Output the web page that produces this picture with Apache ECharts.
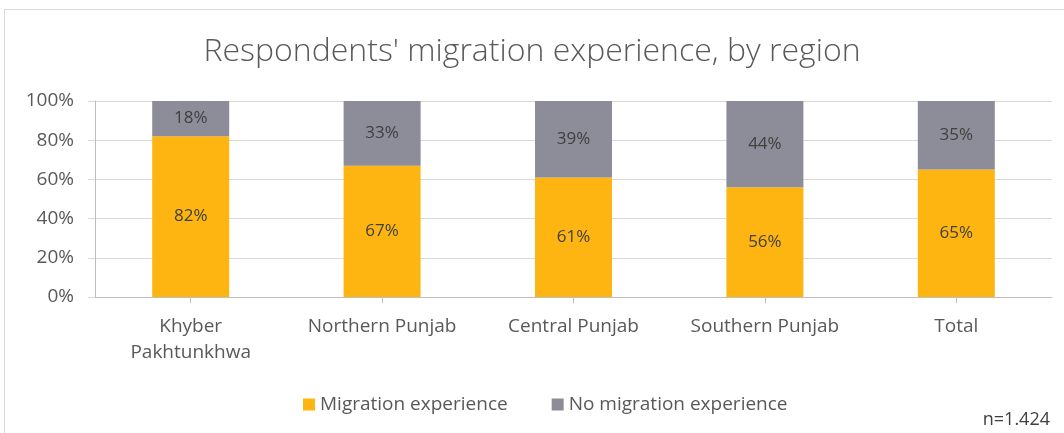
<!DOCTYPE html>
<html>
<head>
<meta charset="utf-8">
<script src="https://cdn.jsdelivr.net/npm/echarts@6/dist/echarts.min.js"></script>
<style>
  html, body { margin: 0; padding: 0; background: #ffffff; }
  #chart { width: 1064px; height: 433px; }
</style>
</head>
<body>
<div id="chart"></div>
<script>
// Regions shown on the category axis
const regions = ['Khyber\nPakhtunkhwa', 'Northern Punjab', 'Central Punjab', 'Southern Punjab', 'Total'];
// Share of respondents (%) by migration experience
const withMigration = [82, 67, 61, 56, 65];
const withoutMigration = [18, 33, 39, 44, 35];
const seriesNames = ['Migration experience', 'No migration experience'];
const yTicks = [0, 20, 40, 60, 80, 100];

const fontFamily = '"Open Sans", "Liberation Sans", sans-serif';
const chart = echarts.init(document.getElementById('chart'));

const labelStyle = {
  show: true,
  position: 'inside',
  formatter: p => p.value + '%',
  color: '#404040',
  fontSize: 17,
  fontFamily: fontFamily
};

chart.setOption({
  animation: false,
  title: {
    text: "Respondents' migration experience, by region",
    left: 'center',
    top: 31,
    textStyle: { fontFamily: fontFamily, fontWeight: 300, fontSize: 32, color: '#595959' }
  },
  graphic: [
    {
      type: 'rect',
      shape: { x: 4.5, y: 9.5, width: 1080, height: 440 },
      style: { fill: 'none', stroke: '#d9d9d9', lineWidth: 1 },
      silent: true
    },
    {
      type: 'text',
      right: 14,
      top: 411,
      style: { text: 'n=1.424', fontFamily: fontFamily, fontSize: 18, fill: '#404040' }
    }
  ],
  legend: {
    data: seriesNames,
    top: 390,
    left: 298,
    itemWidth: 12,
    itemHeight: 12,
    itemGap: 44,
    icon: 'rect',
    textStyle: { fontFamily: fontFamily, fontSize: 19, color: '#595959' }
  },
  grid: { left: 95, right: 12, top: 101, bottom: 136, containLabel: false },
  xAxis: {
    type: 'category',
    data: regions,
    axisLine: { lineStyle: { color: '#bfbfbf' } },
    axisTick: { show: true, alignWithLabel: true, length: 6, lineStyle: { color: '#bfbfbf' } },
    axisLabel: { fontFamily: fontFamily, fontSize: 19, color: '#595959', margin: 17, lineHeight: 26, interval: 0 }
  },
  yAxis: {
    type: 'value',
    min: 0,
    max: 100,
    interval: 20,
    axisLine: { show: true, lineStyle: { color: '#bfbfbf' } },
    axisTick: { show: true, length: 7, lineStyle: { color: '#d9d9d9' } },
    splitLine: { lineStyle: { color: '#d9d9d9' } },
    axisLabel: {
      fontFamily: fontFamily, fontSize: 19, color: '#595959', margin: 21,
      formatter: v => (yTicks.includes(v) ? v + '%' : '')
    }
  },
  series: [
    {
      name: seriesNames[0],
      type: 'bar',
      stack: 'total',
      data: withMigration,
      barWidth: 77,
      itemStyle: { color: '#FFB511' },
      label: labelStyle
    },
    {
      name: seriesNames[1],
      type: 'bar',
      stack: 'total',
      data: withoutMigration,
      barWidth: 77,
      itemStyle: { color: '#8C8D98' },
      label: labelStyle
    }
  ]
});
</script>
</body>
</html>
